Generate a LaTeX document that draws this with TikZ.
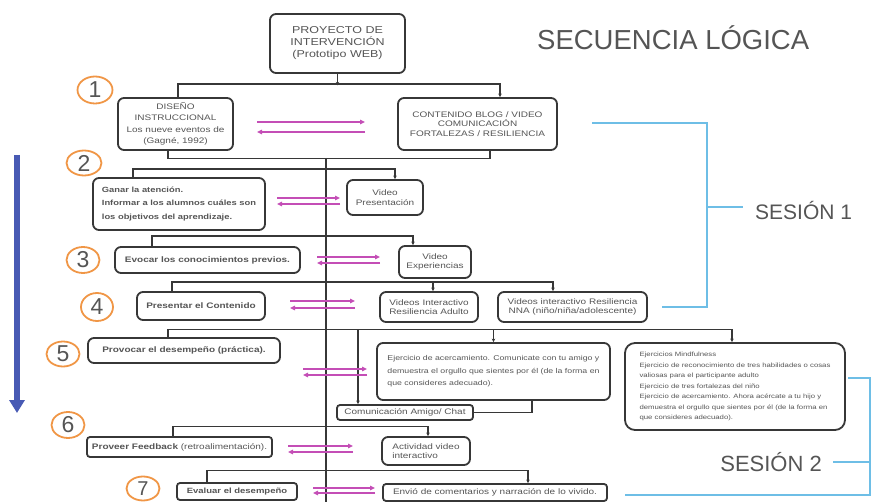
\documentclass[tikz,border=0pt]{standalone}
\usepackage{fontspec}
\setmainfont{Liberation Sans}
\newfontfamily\bxf[FakeStretch=1.25]{Liberation Sans}
\usetikzlibrary{arrows.meta,shapes.geometric}
\definecolor{bc}{RGB}{55,55,55}
\definecolor{tc}{RGB}{85,85,85}
\definecolor{mag}{RGB}{196,78,182}
\definecolor{sky}{RGB}{110,190,230}
\definecolor{bigb}{RGB}{72,90,180}
\definecolor{org}{RGB}{240,150,70}
\begin{document}
\begin{tikzpicture}[x=1pt,y=-1pt,
  box/.style={draw=bc, line width=1.8pt, rounded corners=6pt, fill=white, inner sep=1pt,
    text=tc, align=center, font=\bxf\fontsize{8}{9.5}\selectfont},
  sz/.style 2 args={minimum width=#1pt, minimum height=#2pt},
  conn/.style={draw=bc, line width=1.2pt},
  tip/.style={-{Stealth[length=3.5pt,width=3.5pt]}},
  pink/.style={draw=mag, line width=2pt},
  num/.style={ellipse, draw=org, line width=1.8pt, inner sep=0pt, text=tc,
    font=\fontsize{23}{23}\selectfont},
  sess/.style={draw=sky, line width=1.5pt},
  lbl/.style={text=tc, inner sep=0pt}
]
\useasboundingbox (0,0) rectangle (872,502);

% title
\node[lbl, anchor=west, font=\fontsize{27.5}{30}\selectfont] (title) at (537,38) {SECUENCIA LÓGICA};

% boxes
\node[box, sz={135}{59}, font=\bxf\fontsize{10}{12}\selectfont] (proj) at (337.5,43.5) {PROYECTO DE\\INTERVENCIÓN\\(Prototipo WEB)};
\node[box, sz={115}{52}, font=\bxf\fontsize{8}{11.5}\selectfont] (dis) at (175.5,124) {DISEÑO\\INSTRUCCIONAL\\Los nueve eventos de\\(Gagné, 1992)};
\node[box, sz={159}{52}] (cont) at (477.5,124) {CONTENIDO BLOG / VIDEO\\COMUNICACIÓN\\FORTALEZAS / RESILIENCIA};

\node[box, sz={172}{52}, align=left, font=\bxf\bfseries\fontsize{7.5}{13.5}\selectfont] (ganar) at (179,204) {Ganar la atención.\\Informar a los alumnos cuáles son\\los objetivos del aprendizaje.};
\node[box, sz={76}{35}] (vpres) at (385,197.5) {Video\\Presentación};

\node[box, sz={185}{26}, font=\bxf\bfseries\fontsize{8}{9.5}\selectfont] (evocar) at (207.5,260) {Evocar los conocimientos previos.};
\node[box, sz={72}{32}] (vexp) at (435,262) {Video\\Experiencias};

\node[box, sz={128}{28}, font=\bxf\bfseries\fontsize{8}{9.5}\selectfont] (pres) at (201,306) {Presentar el Contenido};
\node[box, sz={98}{30}] (vadult) at (429,307) {Videos Interactivo\\Resiliencia Adulto};
\node[box, sz={149}{30}] (vnna) at (572.5,307) {Videos interactivo Resiliencia\\NNA (niño/niña/adolescente)};

\node[box, sz={192}{25}, font=\bxf\bfseries\fontsize{8}{9.5}\selectfont] (prov) at (184,350.5) {Provocar el desempeño (práctica).};
\node[box, sz={233}{57}, align=left, font=\bxf\fontsize{7}{12.5}\selectfont] (ejer) at (493.5,371.5) {Ejercicio de acercamiento. Comunicate con tu amigo y\\demuestra el orgullo que sientes por él (de la forma en\\que consideres adecuado).};
\node[box, sz={136}{15}, rounded corners=3pt] (comu) at (405,412.5) {Comunicación Amigo/ Chat};
\node[box, sz={220}{87}, align=left, rounded corners=10pt, font=\bxf\fontsize{6.2}{10.5}\selectfont] (mind) at (735,386.5) {Ejercicios Mindfulness\\Ejercicio de reconocimiento de tres habilidades o cosas\\valiosas para el participante adulto\\Ejercicio de tres fortalezas del niño\\Ejercicio de acercamiento. Ahora acércate a tu hijo y\\demuestra el orgullo que sientes por él (de la forma en\\que consideres adecuado).};

\node[box, sz={185}{20}, rounded corners=3pt] (feed) at (179.5,447) {\textbf{Proveer Feedback} (retroalimentación).};
\node[box, sz={88}{28}, align=left] (activ) at (426,451) {Actividad video\\interactivo};

\node[box, sz={120}{17}, rounded corners=3pt, font=\bxf\bfseries\fontsize{7.6}{9}\selectfont] (eval) at (237,491.5) {Evaluar el desempeño};
\node[box, sz={224}{17}, rounded corners=3pt] (envio) at (495,492.5) {Envió de comentarios y narración de lo vivido.};

% numbers
\node[num, minimum width=35pt, minimum height=27pt] (n1) at (95,90) {1};
\node[num, minimum width=35pt, minimum height=25pt] (n2) at (84,163) {2};
\node[num, minimum width=33pt, minimum height=26pt] (n3) at (83,260) {3};
\node[num, minimum width=32pt, minimum height=28pt] (n4) at (97,307) {4};
\node[num, minimum width=33pt, minimum height=25pt] (n5) at (63,354) {5};
\node[num, minimum width=33pt, minimum height=26pt] (n6) at (68,425) {6};
\node[num, minimum width=33pt, minimum height=24pt, font=\fontsize{20}{20}\selectfont] (n7) at (143,488.5) {7};

% connectors
\draw[conn, tip] (proj.south) -- ++(0,11.5);
\draw[conn, tip] ([xshift=2.5pt]dis.north) -- ++(0,-13) -| ([xshift=22.5pt]cont.north);
\draw[conn] ([xshift=-7.5pt]dis.south) -- ++(0,8) -| ([xshift=12.5pt]cont.south);
\coordinate (t1) at (326,158);
\coordinate (t2) at (326,505);
\draw[conn] (t1) -- (t2);

\draw[conn, tip] ([xshift=-46pt]ganar.north) -- ++(0,-8) -| ([xshift=10pt]vpres.north);
\draw[conn, tip] ([xshift=-55.5pt]evocar.north) -- ++(0,-10) -| ([xshift=-22pt]vexp.north);
\draw[conn, tip] ([xshift=-29pt]pres.north) -- ++(0,-9) -| ([xshift=-19.5pt]vnna.north);
\draw[conn, tip] ([xshift=4pt]vadult.north) ++(0,-9) -- ([xshift=4pt]vadult.north);

\draw[conn, tip] ([xshift=-16pt]prov.north) -- ++(0,-8) -| ([xshift=-3pt]mind.north);
\draw[conn, tip] (ejer.north) ++(0,-13) -- (ejer.north);
\draw[conn, tip] ([xshift=-47pt]comu.north) ++(0,-75) -- ([xshift=-47pt]comu.north);
\draw[conn] ([xshift=38.5pt]ejer.south) |- (comu.east);

\draw[conn, tip] ([xshift=-6.5pt]feed.north) -- ++(0,-10) -| ([xshift=2pt]activ.north);
\draw[conn, tip] ([xshift=-30pt]eval.north) -- ++(0,-11.5) -| ([xshift=33pt]envio.north);

% pink double arrows
\foreach \a/\b/\u/\l in {257/365/122/132, 277/340/198/204, 317/380/257/263, 290/355/301/308, 303/367/369/375, 288/353/446/452, 313/375/488/493}{
  \coordinate (pa) at (\a,\u); \coordinate (pb) at (\b,\u);
  \coordinate (pc) at (\b,\l); \coordinate (pd) at (\a,\l);
  \draw[pink, -{Triangle[length=5pt,width=4.5pt]}] (pa) -- (pb);
  \draw[pink, -{Triangle[length=5pt,width=4.5pt]}] (pc) -- (pd);
}

% big blue arrow
\coordinate (ba) at (17,155);
\coordinate (bb) at (17,413);
\draw[bigb, line width=5.5pt, -{Triangle[length=13pt,width=15pt]}] (ba) -- (bb);

% session 1 bracket
\coordinate (s1a) at (592,123);
\coordinate (s1b) at (707,123);
\coordinate (s1c) at (707,307);
\coordinate (s1d) at (662,307);
\coordinate (s1m) at (707,207);
\coordinate (s1e) at (743,207);
\draw[sess] (s1a) -- (s1b) -- (s1c) -- (s1d);
\draw[sess] (s1m) -- (s1e);
\node[lbl, anchor=west, font=\fontsize{21}{24}\selectfont] (ses1) at (755,210) {SESIÓN 1};

% session 2 bracket
\coordinate (s2a) at (848,378);
\coordinate (s2b) at (870,378);
\coordinate (s2c) at (870,495);
\coordinate (s2d) at (625,495);
\coordinate (s2m) at (870,462);
\coordinate (s2e) at (833,462);
\draw[sess] (s2a) -- (s2b) -- (s2c) -- (s2d);
\draw[sess] (s2m) -- (s2e);
\node[lbl, anchor=east, font=\fontsize{22}{24}\selectfont] (ses2) at (822,462) {SESIÓN 2};
\end{tikzpicture}
\end{document}
